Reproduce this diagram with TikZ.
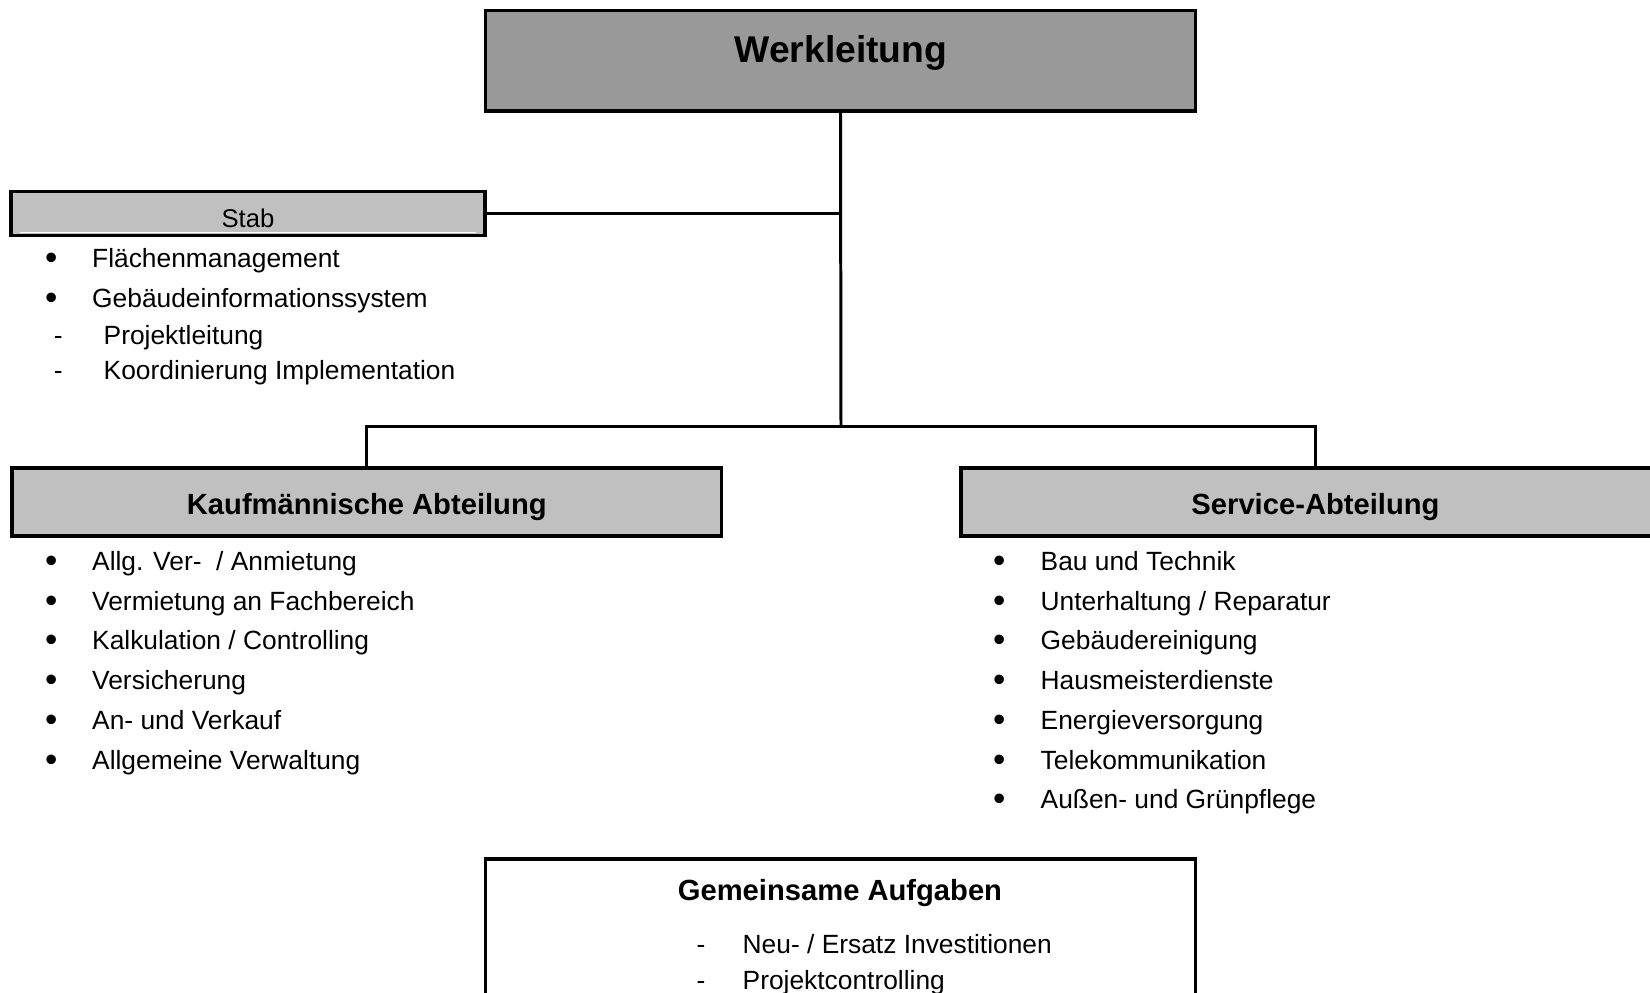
\documentclass[tikz,border=0pt]{standalone}
\usepackage{fontspec}
\setmainfont{Liberation Sans}
\usepackage{tikz}

\definecolor{topgray}{RGB}{153,153,153}
\definecolor{boxgray}{RGB}{192,192,192}

\begin{document}
\begin{tikzpicture}[
    orgbox/.style={draw, line width=1.0pt, inner sep=0pt},
    link/.style={line width=0.85pt},
    entry/.style={anchor=west, inner sep=0pt, text height=0.75em, text depth=0.2em,
                  font=\fontsize{7.5}{9}\selectfont},
    dot/.style={entry, font=\fontsize{10}{12}\selectfont, yshift=-0.02cm},
    head/.style={inner sep=0pt, text height=0.88em, text depth=0.2em,
                 font=\fontsize{8.3}{10}\selectfont\bfseries}
  ]
    \useasboundingbox (0.0, 0.0) rectangle (16.5, 9.93);
    \clip (0.0, 0.0) rectangle (16.5, 9.93);

    \node[orgbox, fill=topgray, minimum width=7.10cm, minimum height=1.007cm] (werk) at (8.405, 9.321) {};
    \node[inner sep=0pt, font=\fontsize{10.6}{13}\selectfont\bfseries] (werktitle) at (8.41, 9.405) {Werkleitung};

    \node[orgbox, fill=boxgray, minimum width=4.735cm, minimum height=0.44cm, text height=0.82em, text depth=0pt,
          font=\fontsize{7.3}{9}\selectfont] (stab) at (2.48, 7.795) {Stab};
    \draw[white, line width=0.4pt] (0.2, 7.605) -- (4.76, 7.605);

    \node[orgbox, fill=boxgray, minimum width=7.095cm, minimum height=0.68cm, head] (kauf) at (3.668, 4.908) {Kaufmännische Abteilung};
    \node[orgbox, fill=boxgray, minimum width=7.095cm, minimum height=0.68cm, head] (serv) at (13.155, 4.908) {Service-Abteilung};

    \node[orgbox, minimum width=7.10cm, minimum height=1.61cm] (gem) at (8.405, 0.535) {};
    \node[head] (gemtitle) at (8.40, 1.04) {Gemeinsame Aufgaben};

    % connectors
    \coordinate (split) at (8.41, 5.66);
    \draw[link] (werk.south) -- (split);
    \draw[link] (stab.east) -- (stab.east -| werk.south);
    \draw[link] (kauf.north) |- (split) -| (serv.north);

    % Stab
    \node[dot] (sb1) at (0.445, 7.35) {\textbullet};
    \node[entry] (st1) at (0.915, 7.35) {Flächenmanagement};
    \node[dot] (sb2) at (0.445, 6.95) {\textbullet};
    \node[entry] (st2) at (0.915, 6.95) {Gebäudeinformationssystem};
    \node[entry] (sd3) at (0.531, 6.58) {-};
    \node[entry] (st3) at (1.03, 6.58) {Projektleitung};
    \node[entry] (sd4) at (0.531, 6.23) {-};
    \node[entry] (st4) at (1.03, 6.23) {Koordinierung Implementation};

    % Kaufmaennische Abteilung
    \node[dot] (kb1) at (0.445, 4.32) {\textbullet};
    \node[entry] (kt1) at (0.915, 4.32) {Allg. Ver-~ / Anmietung};
    \node[dot] (kb2) at (0.445, 3.92) {\textbullet};
    \node[entry] (kt2) at (0.915, 3.92) {Vermietung an Fachbereich};
    \node[dot] (kb3) at (0.445, 3.53) {\textbullet};
    \node[entry] (kt3) at (0.915, 3.53) {Kalkulation / Controlling};
    \node[dot] (kb4) at (0.445, 3.13) {\textbullet};
    \node[entry] (kt4) at (0.915, 3.13) {Versicherung};
    \node[dot] (kb5) at (0.445, 2.73) {\textbullet};
    \node[entry] (kt5) at (0.915, 2.73) {An- und Verkauf};
    \node[dot] (kb6) at (0.445, 2.33) {\textbullet};
    \node[entry] (kt6) at (0.915, 2.33) {Allgemeine Verwaltung};

    % Service-Abteilung
    \node[dot] (vb1) at (9.924, 4.32) {\textbullet};
    \node[entry] (vt1) at (10.40, 4.32) {Bau und Technik};
    \node[dot] (vb2) at (9.924, 3.92) {\textbullet};
    \node[entry] (vt2) at (10.40, 3.92) {Unterhaltung / Reparatur};
    \node[dot] (vb3) at (9.924, 3.53) {\textbullet};
    \node[entry] (vt3) at (10.40, 3.53) {Gebäudereinigung};
    \node[dot] (vb4) at (9.924, 3.13) {\textbullet};
    \node[entry] (vt4) at (10.40, 3.13) {Hausmeisterdienste};
    \node[dot] (vb5) at (9.924, 2.73) {\textbullet};
    \node[entry] (vt5) at (10.40, 2.73) {Energieversorgung};
    \node[dot] (vb6) at (9.924, 2.33) {\textbullet};
    \node[entry] (vt6) at (10.40, 2.33) {Telekommunikation};
    \node[dot] (vb7) at (9.924, 1.94) {\textbullet};
    \node[entry] (vt7) at (10.40, 1.94) {Außen- und Grünpflege};

    % Gemeinsame Aufgaben
    \node[entry] (gd1) at (6.96, 0.49) {-};
    \node[entry] (gt1) at (7.42, 0.49) {Neu- / Ersatz Investitionen};
    \node[entry] (gd2) at (6.96, 0.13) {-};
    \node[entry] (gt2) at (7.42, 0.13) {Projektcontrolling};

  \end{tikzpicture}
\end{document}
